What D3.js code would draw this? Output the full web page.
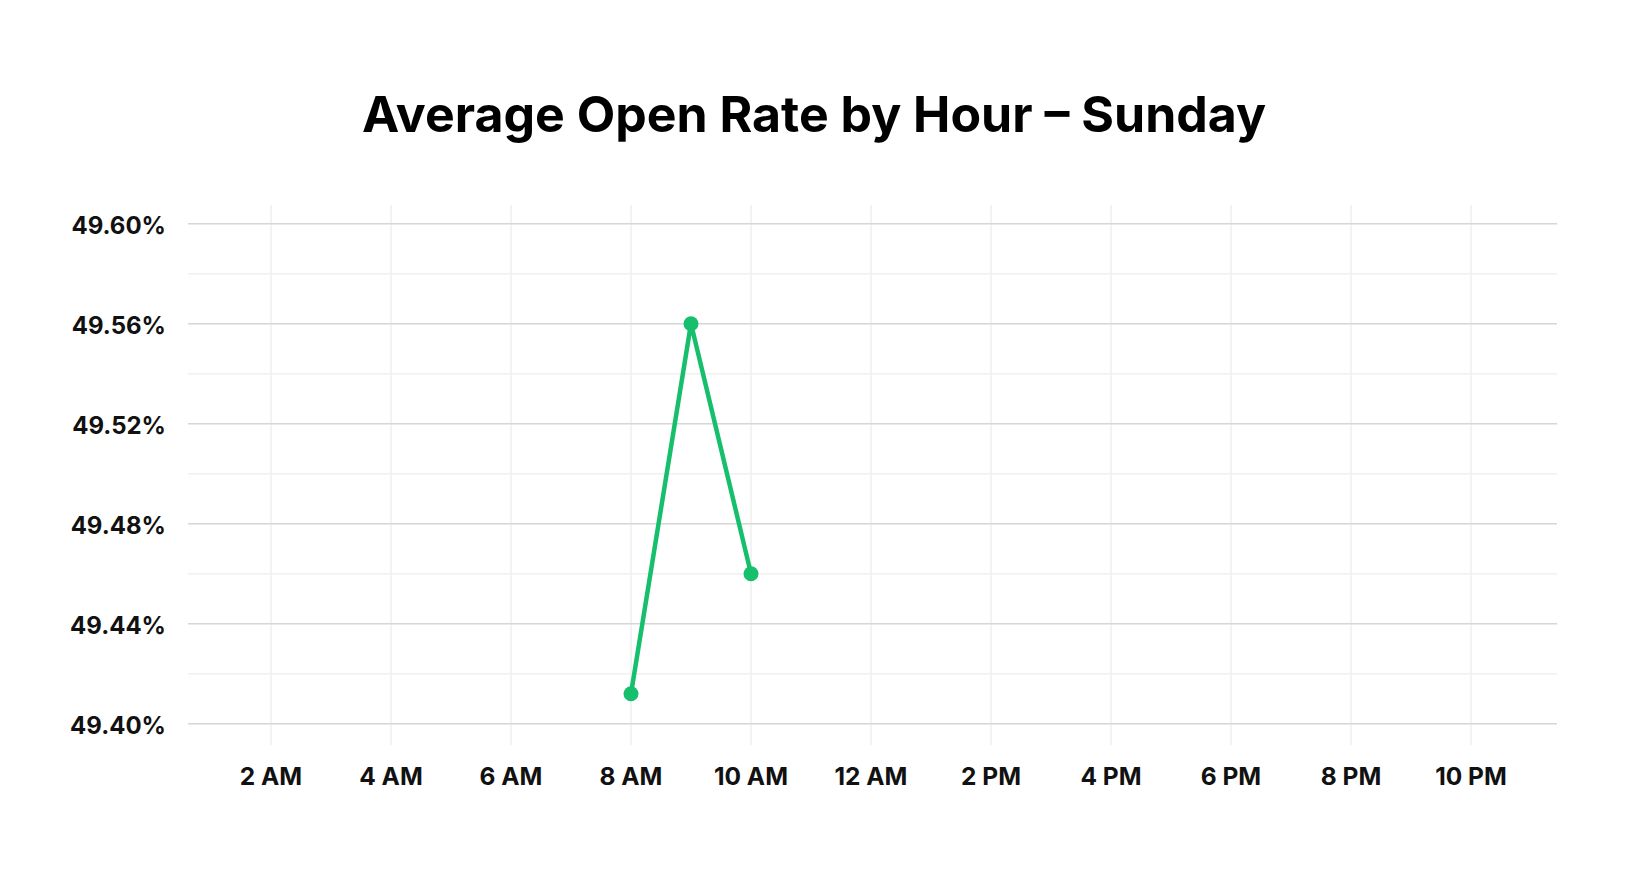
<!DOCTYPE html>
<html><head><meta charset="utf-8">
<script src="https://cdn.jsdelivr.net/npm/d3@7"></script>
<style>html,body{margin:0;padding:0;background:#fff;}svg{display:block;font-family:Inter,"Noto Sans",sans-serif;}</style>
</head><body><svg id="c" width="1628" height="872"></svg>
<script>
const title = "Average Open Rate by Hour – Sunday";
const hours = [8, 9, 10];
const openRates = [49.412, 49.56, 49.46];
const xTickHours = [2, 4, 6, 8, 10, 12, 14, 16, 18, 20, 22];
const xTickLabels = ["2 AM","4 AM","6 AM","8 AM","10 AM","12 AM","2 PM","4 PM","6 PM","8 PM","10 PM"];
const yTicks = [49.40, 49.44, 49.48, 49.52, 49.56, 49.60];
const yMinorTicks = [49.42, 49.46, 49.50, 49.54, 49.58];

const svg = d3.select("#c");
const plotL = 188, plotR = 1557, gridTop = 205, gridBot = 745;
const x = d3.scaleLinear().domain([0, 24]).range([151, 151 + 60 * 24]);
const y = d3.scaleLinear().domain([49.40, 49.60]).range([723.7, 223.7]);

svg.append("text").attr("x", 814).attr("y", 131.5).attr("text-anchor", "middle")
  .attr("font-size", 50).attr("font-weight", 700).attr("fill", "#000")
  .text(title);

svg.append("g").selectAll("line").data(xTickHours).join("line")
  .attr("x1", d => x(d)).attr("x2", d => x(d)).attr("y1", gridTop).attr("y2", gridBot)
  .attr("stroke", "#efefef").attr("stroke-width", 1.5);
svg.append("g").selectAll("line").data(yMinorTicks).join("line")
  .attr("x1", plotL).attr("x2", plotR).attr("y1", d => y(d)).attr("y2", d => y(d))
  .attr("stroke", "#f0f0f0").attr("stroke-width", 1.5);
svg.append("g").selectAll("line").data(yTicks).join("line")
  .attr("x1", plotL).attr("x2", plotR).attr("y1", d => y(d)).attr("y2", d => y(d))
  .attr("stroke", "#d6d6d6").attr("stroke-width", 1.5);

svg.append("g").selectAll("text").data(yTicks).join("text")
  .attr("x", 166).attr("y", d => y(d)).attr("dy", "0.42em").attr("text-anchor", "end")
  .attr("font-size", 24).attr("font-weight", 700).attr("fill", "#111")
  .text(d => d.toFixed(2) + "%");

svg.append("g").selectAll("text").data(xTickHours).join("text")
  .attr("x", d => x(d)).attr("y", 785).attr("text-anchor", "middle")
  .attr("font-size", 24.5).attr("font-weight", 700).attr("fill", "#111")
  .text((d, i) => xTickLabels[i]);

const data = hours.map((h, i) => ({h, v: openRates[i]}));
const green = "#16bf6c";
svg.append("path").datum(data)
  .attr("d", d3.line().x(d => x(d.h)).y(d => y(d.v)))
  .attr("fill", "none").attr("stroke", green).attr("stroke-width", 4.5).attr("stroke-linejoin", "round");
svg.append("g").selectAll("circle").data(data).join("circle")
  .attr("cx", d => x(d.h)).attr("cy", d => y(d.v)).attr("r", 7.5).attr("fill", green);
</script></body></html>
